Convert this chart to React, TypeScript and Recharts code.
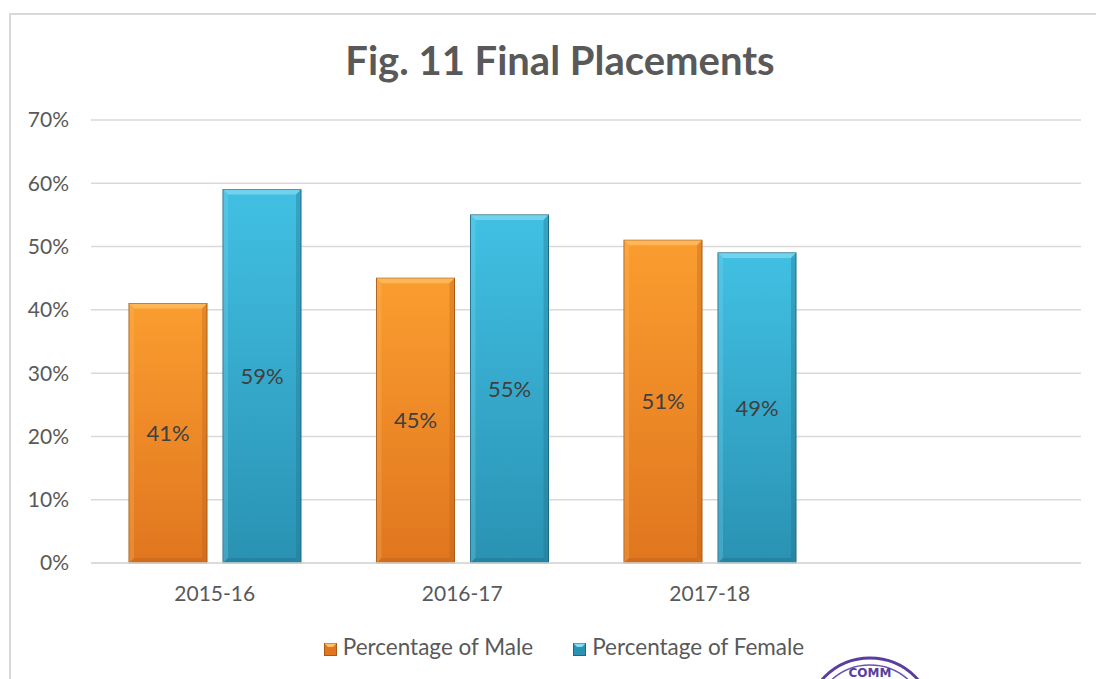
import { BarChart, Bar, XAxis, YAxis, CartesianGrid, LabelList } from "recharts";

const years = ["2015-16", "2016-17", "2017-18", ""];
const maleShare = [41, 45, 51, null];
const femaleShare = [59, 55, 49, null];
const yTicks = [0, 10, 20, 30, 40, 50, 60, 70];

const rows = years.map((year, i) => ({ year, male: maleShare[i], female: femaleShare[i] }));

const palette: Record<string, { top: string; bottom: string; edge: string; light: string; dark: string }> = {
  male: { top: "#fa9d2f", bottom: "#e0761f", edge: "#a85a17", light: "#ffc06a", dark: "#b8611a" },
  female: { top: "#41c0e3", bottom: "#2a92b3", edge: "#1c6a82", light: "#86dcf2", dark: "#216f88" },
};

function BevelBar(props: any) {
  const { x, y, width, height, kind } = props;
  if (!height || height <= 0) return null;
  const c = palette[kind];
  const b = 5;
  return (
    <g>
      <rect x={x} y={y} width={width} height={height} fill={`url(#grad-${kind})`} stroke={c.edge} strokeWidth={1} />
      <polygon points={`${x},${y} ${x + width},${y} ${x + width - b},${y + b} ${x + b},${y + b}`} fill={c.light} opacity={0.7} />
      <polygon points={`${x},${y} ${x + b},${y + b} ${x + b},${y + height - b} ${x},${y + height}`} fill={c.light} opacity={0.25} />
      <polygon points={`${x + width},${y} ${x + width - b},${y + b} ${x + width - b},${y + height - b} ${x + width},${y + height}`} fill={c.dark} opacity={0.35} />
      <polygon points={`${x},${y + height} ${x + b},${y + height - b} ${x + width - b},${y + height - b} ${x + width},${y + height}`} fill={c.dark} opacity={0.4} />
    </g>
  );
}

function LegendBox({ kind }: { kind: string }) {
  const c = palette[kind];
  return (
    <svg width={13} height={13} style={{ marginRight: 6, verticalAlign: "-1px" }}>
      <rect x={0.5} y={0.5} width={12} height={12} fill={c.bottom} stroke={c.edge} />
      <polygon points="0.5,0.5 12.5,0.5 9,4 4,4" fill={c.light} />
    </svg>
  );
}

function ChartLegend() {
  return (
    <div style={{ display: "flex", justifyContent: "center", gap: 40, fontFamily: "Lato", fontSize: 22.5, color: "#595959" }}>
      <span><LegendBox kind="male" />Percentage of Male</span>
      <span><LegendBox kind="female" />Percentage of Female</span>
    </div>
  );
}

export default function App() {
  return (
    <div style={{ position: "fixed", left: 0, top: 0, width: 1096, height: 679, background: "#fff", overflow: "hidden", fontFamily: "Lato" }}>
      <div style={{ position: "absolute", left: 9, top: 13, width: 1120, height: 700, border: "2px solid #d9d9d9", boxSizing: "border-box" }} />
      <div style={{ position: "absolute", left: 10, width: 1100, top: 36, textAlign: "center", fontSize: 40, fontWeight: 700, color: "#595959" }}>
        Fig. 11 Final Placements
      </div>
      <div style={{ position: "absolute", left: 0, top: 0 }}>
        <BarChart width={1096} height={679} data={rows} barSize={78} barGap={16} margin={{ top: 120, right: 15, bottom: 86, left: 0 }}>
          <defs>
            <linearGradient id="grad-male" x1="0" y1="0" x2="0" y2="1">
              <stop offset="0%" stopColor={palette.male.top} />
              <stop offset="100%" stopColor={palette.male.bottom} />
            </linearGradient>
            <linearGradient id="grad-female" x1="0" y1="0" x2="0" y2="1">
              <stop offset="0%" stopColor={palette.female.top} />
              <stop offset="100%" stopColor={palette.female.bottom} />
            </linearGradient>
          </defs>
          <CartesianGrid vertical={false} stroke="#d9d9d9" strokeWidth={1.5} />
          <XAxis dataKey="year" axisLine={{ stroke: "#d9d9d9", strokeWidth: 1.5 }} tickLine={false} tickSize={0} tickMargin={23}
            tick={{ fill: "#595959", fontSize: 21, fontFamily: "Lato" }} />
          <YAxis width={91} domain={[0, 70]} ticks={yTicks} axisLine={false} tickLine={false} tickSize={0} tickMargin={22}
            tickFormatter={(v: number) => `${v}%`} tick={{ fill: "#595959", fontSize: 21, fontFamily: "Lato" }} />
          <Bar dataKey="male" name="Percentage of Male" isAnimationActive={false} shape={(p: any) => <BevelBar {...p} kind="male" />}>
            <LabelList dataKey="male" position="center" fill="#404040" fontSize={22} fontFamily="Lato"
              formatter={(v: any) => (v == null ? "" : `${v}%`)} />
          </Bar>
          <Bar dataKey="female" name="Percentage of Female" isAnimationActive={false} shape={(p: any) => <BevelBar {...p} kind="female" />}>
            <LabelList dataKey="female" position="center" fill="#404040" fontSize={22} fontFamily="Lato"
              formatter={(v: any) => (v == null ? "" : `${v}%`)} />
          </Bar>
        </BarChart>
      </div>
      <div style={{ position: "absolute", left: 14, width: 1100, top: 633 }}>
        <ChartLegend />
      </div>
      <svg style={{ position: "absolute", left: 800, top: 650 }} width={140} height={29}>
        <circle cx={70} cy={72} r={64} fill="none" stroke="#5a3d9e" strokeWidth={3} />
        <circle cx={70} cy={72} r={57} fill="none" stroke="#6b52b0" strokeWidth={1.5} />
        <text x={70} y={27} textAnchor="middle" fontSize={12} fontWeight={700} fill="#5a3d9e" fontFamily="DejaVu Sans">COMM</text>
      </svg>
    </div>
  );
}
